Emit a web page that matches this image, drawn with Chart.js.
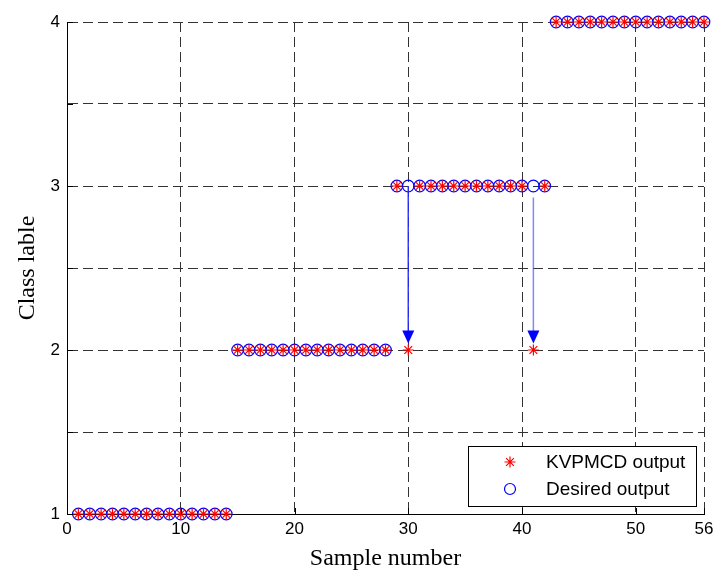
<!DOCTYPE html>
<html>
<head>
<meta charset="utf-8">
<script src="https://cdn.jsdelivr.net/npm/chart.js@4/dist/chart.umd.min.js"></script>
<style>
  html, body { margin: 0; padding: 0; background: #fff; }
  #wrap { width: 714px; height: 573px; }
</style>
</head>
<body>
<div id="wrap"><canvas id="classChart" width="714" height="573"></canvas></div>
<script>
// sample index and class labels
const samples = [1,2,3,4,5,6,7,8,9,10,11,12,13,14,
                 15,16,17,18,19,20,21,22,23,24,25,26,27,28,
                 29,30,31,32,33,34,35,36,37,38,39,40,41,42,
                 43,44,45,46,47,48,49,50,51,52,53,54,55,56];
const desired = [1,1,1,1,1,1,1,1,1,1,1,1,1,1,
                 2,2,2,2,2,2,2,2,2,2,2,2,2,2,
                 3,3,3,3,3,3,3,3,3,3,3,3,3,3,
                 4,4,4,4,4,4,4,4,4,4,4,4,4,4];
const kvpmcd  = [1,1,1,1,1,1,1,1,1,1,1,1,1,1,
                 2,2,2,2,2,2,2,2,2,2,2,2,2,2,
                 3,2,3,3,3,3,3,3,3,3,3,3,2,3,
                 4,4,4,4,4,4,4,4,4,4,4,4,4,4];
const seriesNames = ["KVPMCD output", "Desired output"];

// misclassified samples (arrows from desired class to predicted class)
const arrowSamples = [30, 41];
const arrowFrom = [3, 2.93];
const arrowTo = [2.04, 2.04];

const xTicks = [0, 10, 20, 30, 40, 50, 56];
const yTicks = [1, 1.5, 2, 2.5, 3, 3.5, 4];

function toPoints(xs, ys) {
  return xs.map(function(x, i) { return { x: x, y: ys[i] }; });
}

const tickFont = { family: "'Liberation Sans', Arial, sans-serif", size: 17 };
const titleFont = { family: "'Liberation Serif', 'Times New Roman', serif", size: 24 };

// small inward ticks, misclassification arrows and the boxed legend
const extras = {
  id: 'extras',
  afterDatasetsDraw: function(chart) {
    const ctx = chart.ctx;
    const xs = chart.scales.x, ys = chart.scales.y;
    ctx.save();
    for (var i = 0; i < arrowSamples.length; i++) {
      var px = xs.getPixelForValue(arrowSamples[i]);
      var y0 = ys.getPixelForValue(arrowFrom[i]);
      var y1 = ys.getPixelForValue(arrowTo[i]);
      ctx.strokeStyle = i === 0 ? 'rgba(40,40,255,0.9)' : 'rgba(80,80,255,0.7)';
      ctx.lineWidth = 1.5;
      ctx.beginPath();
      ctx.moveTo(px, y0);
      ctx.lineTo(px, y1 - 12);
      ctx.stroke();
      ctx.fillStyle = '#0000ff';
      ctx.beginPath();
      ctx.moveTo(px - 6, y1 - 13);
      ctx.lineTo(px + 6, y1 - 13);
      ctx.lineTo(px, y1);
      ctx.closePath();
      ctx.fill();
    }
    ctx.restore();
  },
  afterDraw: function(chart) {
    const ctx = chart.ctx;
    const a = chart.chartArea;
    const xs = chart.scales.x, ys = chart.scales.y;
    ctx.save();
    ctx.strokeStyle = '#000';
    ctx.lineWidth = 1;
    xs.ticks.forEach(function(t) {
      var px = Math.round(xs.getPixelForValue(t.value)) + 0.5;
      ctx.beginPath();
      ctx.moveTo(px, a.bottom);
      ctx.lineTo(px, a.bottom - 6);
      ctx.stroke();
    });
    ys.ticks.forEach(function(t) {
      var py = Math.round(ys.getPixelForValue(t.value)) + 0.5;
      ctx.beginPath();
      ctx.moveTo(a.left, py);
      ctx.lineTo(a.left + 6, py);
      ctx.stroke();
    });

    // legend box in the lower right corner
    var bx = a.right - 236, by = a.bottom - 68, bw = 228, bh = 60;
    ctx.fillStyle = '#fff';
    ctx.fillRect(bx, by, bw, bh);
    ctx.strokeStyle = '#000';
    ctx.strokeRect(bx + 0.5, by + 0.5, bw, bh);
    ctx.font = "19px 'Liberation Sans', Arial, sans-serif";
    ctx.textBaseline = 'middle';
    chart.data.datasets.forEach(function(ds, i) {
      var cy = by + 16 + i * 27;
      var cx = bx + 42;
      ctx.strokeStyle = ds.borderColor;
      ctx.lineWidth = 1.2;
      if (ds.pointStyle === 'star') {
        var r = 5.5;
        ctx.beginPath();
        for (var k = 0; k < 4; k++) {
          var ang = k * Math.PI / 4;
          ctx.moveTo(cx - r * Math.cos(ang), cy - r * Math.sin(ang));
          ctx.lineTo(cx + r * Math.cos(ang), cy + r * Math.sin(ang));
        }
        ctx.stroke();
      } else {
        ctx.beginPath();
        ctx.arc(cx, cy, 5.5, 0, Math.PI * 2);
        ctx.stroke();
      }
      ctx.fillStyle = '#000';
      ctx.fillText(ds.label, bx + 78, cy + 1);
    });
    ctx.restore();
  }
};

const CHART = document.getElementById("classChart");
var classChart = new Chart(CHART, {
  type: 'scatter',
  data: {
    datasets: [{
      label: seriesNames[0],
      data: toPoints(samples, kvpmcd),
      pointStyle: 'star',
      pointRadius: 5.5,
      borderColor: '#ff0000',
      backgroundColor: '#ff0000',
      pointBorderWidth: 1.2,
      clip: false
    }, {
      label: seriesNames[1],
      data: toPoints(samples, desired),
      pointStyle: 'circle',
      pointRadius: 5.8,
      borderColor: '#0000ff',
      backgroundColor: 'rgba(0,0,0,0)',
      pointBorderWidth: 1.2,
      clip: false
    }]
  },
  options: {
    responsive: false,
    animation: false,
    layout: { padding: { top: 22, right: 10, left: 0, bottom: 0 } },
    plugins: {
      legend: { display: false },
      tooltip: { enabled: false }
    },
    scales: {
      x: {
        type: 'linear',
        min: 0,
        max: 56,
        afterBuildTicks: function(scale) {
          scale.ticks = xTicks.map(function(v) { return { value: v }; });
        },
        afterFit: function(scale) {
          scale.height = 59;
          scale.paddingLeft = 0;
          scale.paddingRight = 0;
        },
        ticks: {
          autoSkip: false,
          maxRotation: 0,
          padding: 5,
          color: '#000',
          font: tickFont
        },
        grid: { color: '#333', lineWidth: 1, drawTicks: false },
        border: { display: true, color: '#000', width: 1, dash: [10, 5] },
        title: {
          display: true,
          text: 'Sample number',
          color: '#000',
          font: titleFont,
          padding: { top: 0, bottom: 0 }
        }
      },
      y: {
        type: 'linear',
        min: 1,
        max: 4,
        afterBuildTicks: function(scale) {
          scale.ticks = yTicks.map(function(v) { return { value: v }; });
        },
        afterFit: function(scale) {
          scale.width = 67;
          scale.paddingTop = 0;
          scale.paddingBottom = 0;
        },
        ticks: {
          autoSkip: false,
          padding: 7,
          color: '#000',
          font: tickFont,
          callback: function(v) { return Number.isInteger(v) ? String(v) : ''; }
        },
        grid: { color: '#333', lineWidth: 1, drawTicks: false },
        border: { display: true, color: '#000', width: 1, dash: [10, 5] },
        title: {
          display: true,
          text: 'Class lable',
          color: '#000',
          font: titleFont,
          padding: { top: 13, bottom: 0 }
        }
      }
    }
  },
  plugins: [extras]
});
</script>
</body>
</html>
